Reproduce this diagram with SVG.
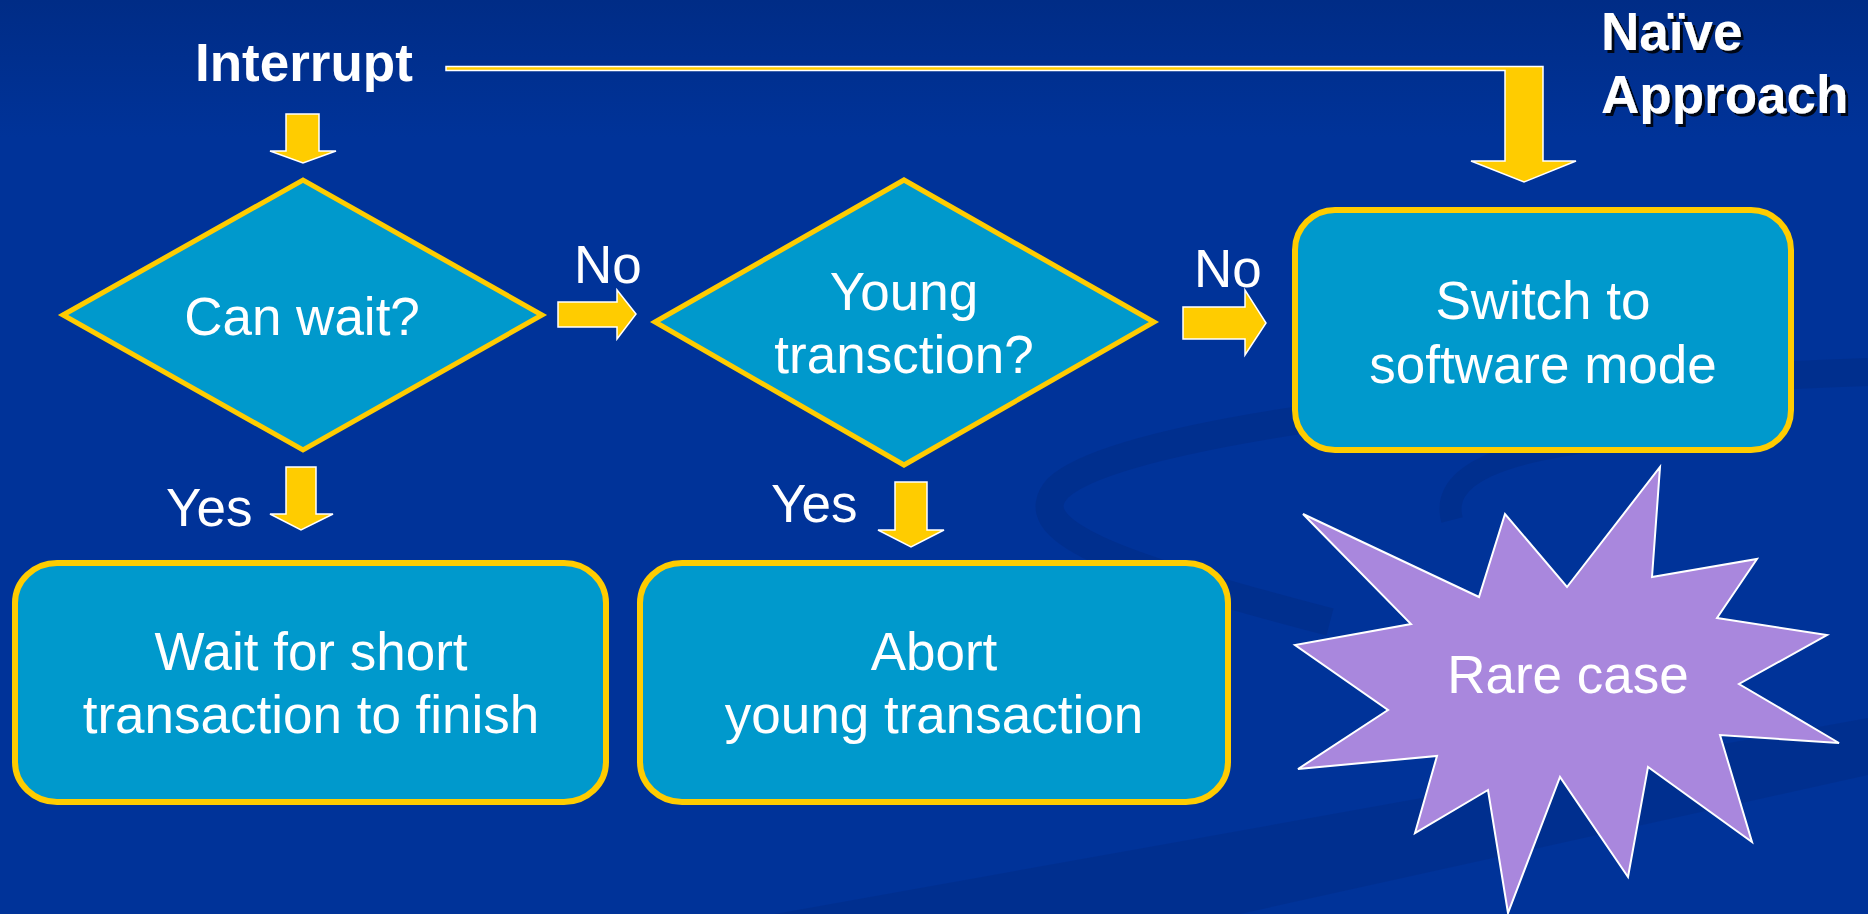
<svg xmlns="http://www.w3.org/2000/svg" width="1868" height="914" viewBox="0 0 1868 914">
  <defs>
    <linearGradient id="bg" x1="0" y1="0" x2="0" y2="1">
      <stop offset="0" stop-color="#002C86"/>
      <stop offset="0.15" stop-color="#003399"/>
      <stop offset="1" stop-color="#003399"/>
    </linearGradient>
    <filter id="shadow" x="-10%" y="-10%" width="130%" height="140%">
      <feDropShadow dx="3" dy="3" stdDeviation="0.6" flood-color="#000000" flood-opacity="0.85"/>
    </filter>
  </defs>
  <style>
    .decision { fill: #0099CC; stroke: #FFCC00; stroke-width: 5; stroke-linejoin: miter; }
    .process { fill: #0099CC; stroke: #FFCC00; stroke-width: 6; }
    .arrow { fill: #FFCC00; stroke: #FFFFFF; stroke-width: 1.5; stroke-linejoin: miter; }
    .label { font-family: "Liberation Sans", Arial, sans-serif; font-size: 53px; fill: #FFFFFF; }
    .mid { text-anchor: middle; }
    .bold { font-weight: bold; }
    .burst { fill: #A987DD; stroke: #FFFFFF; stroke-width: 2; stroke-linejoin: miter; }
  </style>

  <!-- background with subtle swooshes -->
  <rect x="0" y="0" width="1868" height="914" fill="url(#bg)"/>
  <g id="backdrop" fill="none" stroke="#00287A" stroke-opacity="0.35">
    <path d="M1868,372 C1500,385 1120,430 1058,488 C1020,530 1110,565 1330,622" stroke-width="28"/>
    <path d="M1452,520 C1440,475 1500,450 1620,438" stroke-width="22"/>
  </g>
  <polygon points="775,914 1868,718 1868,775 1240,914" fill="#00287A" fill-opacity="0.3"/>

  <!-- connectors -->
  <g id="connectors">
    <polygon class="arrow" points="446,66.5 1543,66.5 1543,161 1576,161 1524,182 1471,161 1505,161 1505,70.5 446,70.5"/>
    <polygon class="arrow" points="286,114 319,114 319,151 336,151 303,163 270,151 286,151"/>
    <polygon class="arrow" points="558,302 617,302 617,290 636,314 617,339 617,327 558,327"/>
    <polygon class="arrow" points="1183,307 1245,307 1245,290 1266,323 1245,355 1245,339 1183,339"/>
    <polygon class="arrow" points="286,467 316,467 316,514 333,514 301,530 270,514 286,514"/>
    <polygon class="arrow" points="895,482 927,482 927,530 944,530 911,547 878,530 895,530"/>
    <text class="label" x="574" y="283">No</text>
    <text class="label" x="1194" y="287">No</text>
    <text class="label" x="166" y="526">Yes</text>
    <text class="label" x="771" y="522">Yes</text>
  </g>

  <g id="interrupt">
    <text class="label bold" x="195" y="81">Interrupt</text>
  </g>

  <g id="naive-approach" filter="url(#shadow)">
    <text class="label bold" x="1601" y="50">Naïve</text>
    <text class="label bold" x="1601" y="113">Approach</text>
  </g>

  <g id="can-wait">
    <polygon class="decision" points="63,315 303,180 542,315 303,450"/>
    <text class="label mid" x="302" y="335">Can wait?</text>
  </g>

  <g id="young-transaction">
    <polygon class="decision" points="655,322 904,180 1154,322 904,465"/>
    <text class="label mid" x="904" y="310">Young</text>
    <text class="label mid" x="904" y="373">transction?</text>
  </g>

  <g id="switch-software">
    <rect class="process" x="1295" y="210" width="496" height="240" rx="40" ry="40"/>
    <text class="label mid" x="1543" y="319">Switch to</text>
    <text class="label mid" x="1543" y="383">software mode</text>
  </g>

  <g id="wait-short">
    <rect class="process" x="15" y="563" width="591" height="239" rx="42" ry="40"/>
    <text class="label mid" x="311" y="670">Wait for short</text>
    <text class="label mid" x="311" y="733">transaction to finish</text>
  </g>

  <g id="abort-young">
    <rect class="process" x="640" y="563" width="588" height="239" rx="42" ry="40"/>
    <text class="label mid" x="934" y="670">Abort</text>
    <text class="label mid" x="934" y="733">young transaction</text>
  </g>

  <g id="rare-case">
    <polygon class="burst" points="1303,514 1479,597 1505,514 1567,587 1660,467 1652,577 1757,559 1717,618 1827,635 1739,684 1839,743 1720,735 1752,842 1648,767 1628,877 1560,777 1508,913 1488,790 1415,833 1437,756 1298,769 1388,710 1295,645 1411,624"/>
    <text class="label mid" x="1568" y="693">Rare case</text>
  </g>
</svg>
